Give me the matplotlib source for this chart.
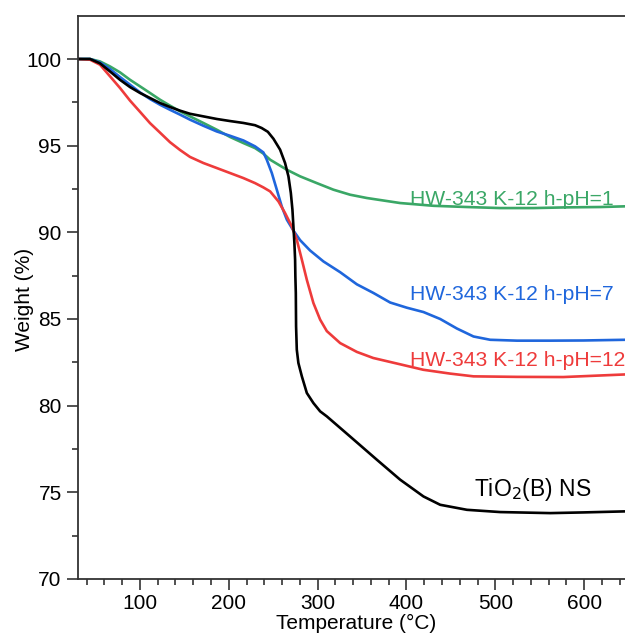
import matplotlib
matplotlib.use("Agg")
import matplotlib.pyplot as plt
import numpy as np

plt.rcParams['font.family'] = ['Liberation Sans', 'DejaVu Sans']

# TGA curves: temperature (C), weight (%)
T_black = [30, 43.9, 55.1, 66.4, 77.6, 88.9, 100.2, 111.4, 122.7, 133.9,
           145.2, 156.4, 171.4, 186.5, 201.5, 216.5, 229.6, 237, 244, 250.3,
           257.8, 263.4, 267.2, 269.9, 271.7, 272.8, 273.9, 274.7, 275.0, 275.5,
           275.8, 276.6, 278.4, 282.3, 287.9, 295.3, 302.9, 310.4, 336.6, 366.7,
           392.9, 419.2, 438, 468.1, 505.6, 561.9, 599.4, 646.3]
W_black = [100, 100, 99.75, 99.28, 98.8, 98.38, 98.04, 97.75, 97.46, 97.23,
           97.02, 96.84, 96.69, 96.54, 96.42, 96.31, 96.18, 96.02, 95.8, 95.4,
           94.77, 94.0, 93.23, 92.27, 91.3, 90.34, 89.38, 88.42, 87.46, 86.5,
           84.57, 83.23, 82.46, 81.69, 80.73, 80.15, 79.67, 79.38, 78.22, 76.88,
           75.73, 74.76, 74.28, 73.99, 73.86, 73.8, 73.84, 73.9]

T_green = [30, 43.9, 55.1, 66.4, 77.6, 88.9, 100.2, 111.4, 122.7, 133.9,
           145.2, 156.4, 171.4, 186.5, 201.5, 216.5, 229.6, 239, 246.6, 265.4,
           280.3, 299.1, 317.8, 336.6, 355.4, 392.9, 430.5, 468.1, 505.6, 543.1,
           580.7, 618.2, 646.3]
W_green = [100, 100, 99.86, 99.57, 99.23, 98.8, 98.42, 98.04, 97.65, 97.31,
           96.98, 96.69, 96.31, 95.92, 95.5, 95.15, 94.86, 94.54, 94.19, 93.61,
           93.23, 92.84, 92.46, 92.17, 91.98, 91.69, 91.53, 91.46, 91.4, 91.4,
           91.44, 91.46, 91.5]

T_blue = [30, 43.9, 55.1, 66.4, 77.6, 88.9, 100.2, 111.4, 122.7, 133.9,
          145.2, 156.4, 171.4, 186.5, 201.5, 216.5, 229.6, 239, 242.8, 248.5,
          254.1, 259.7, 265.4, 272.8, 280.3, 291.6, 306.6, 325.4, 344.2, 362.9,
          381.7, 400.5, 419.2, 438, 456.8, 475.5, 494.3, 524.4, 561.9, 599.4,
          646.3]
W_blue = [100, 100, 99.8, 99.42, 98.96, 98.52, 98.07, 97.69, 97.36, 97.07,
          96.79, 96.5, 96.15, 95.82, 95.57, 95.3, 94.96, 94.61, 94.19, 93.42,
          92.46, 91.49, 90.73, 90.1, 89.55, 88.95, 88.32, 87.7, 87.0, 86.5,
          85.95, 85.65, 85.4, 85.0, 84.45, 83.99, 83.8, 83.75, 83.75, 83.76,
          83.8]

T_red = [30, 43.9, 55.1, 66.4, 77.6, 88.9, 100.2, 111.4, 122.7, 133.9,
         145.2, 156.4, 171.4, 186.5, 201.5, 216.5, 229.6, 239, 246.6, 256,
         263.4, 271, 276.6, 282.3, 287.9, 295.3, 302.9, 310.4, 325.4, 344.2,
         362.6, 400, 419, 449, 475.5, 524.4, 576.5, 646]
W_red = [100, 99.96, 99.67, 99.0, 98.33, 97.6, 96.95, 96.3, 95.75, 95.2,
         94.75, 94.35, 94.0, 93.71, 93.42, 93.13, 92.84, 92.59, 92.36, 91.78,
         91.11, 90.34, 89.57, 88.42, 87.26, 85.92, 84.96, 84.3, 83.61, 83.1,
         82.75, 82.3, 82.07, 81.85, 81.69, 81.66, 81.65, 81.8]

labels = ["HW-343 K-12 h-pH=1", "HW-343 K-12 h-pH=7", "HW-343 K-12 h-pH=12", "TiO$_2$(B) NS"]
colors = ["#3aa766", "#1f66dc", "#ee3b3b", "black"]

fig = plt.figure(figsize=(6.25, 6.37), dpi=100)
ax = fig.add_axes([0.1243, 0.0911, 0.8757, 0.8843])

for T, W, c in [(T_green, W_green, colors[0]), (T_blue, W_blue, colors[1]),
                (T_red, W_red, colors[2]), (T_black, W_black, colors[3])]:
    ax.plot(T, W, color=c, lw=1.9, solid_joinstyle='round', solid_capstyle='round')

ax.text(404, 91.9, labels[0], color=colors[0], fontsize=15.2, va='center', ha='left')
ax.text(404, 86.4, labels[1], color=colors[1], fontsize=15.2, va='center', ha='left')
ax.text(404, 82.6, labels[2], color=colors[2], fontsize=15.2, va='center', ha='left', clip_on=True)
ax.text(476, 75.15, labels[3], color=colors[3], fontsize=16.5, va='center', ha='left')

ax.set_xlim(30, 646)
ax.set_ylim(70, 102.5)
ax.set_xticks([100, 200, 300, 400, 500, 600])
ax.set_xticks(np.arange(40, 646, 20), minor=True)
ax.set_yticks([70, 75, 80, 85, 90, 95, 100])
ax.set_yticks(np.arange(70, 102.5, 2.5), minor=True)
ax.tick_params(which='major', direction='out', length=8, width=1.2, labelsize=15, colors='#333333', labelcolor='black')
ax.tick_params(which='minor', direction='out', length=4, width=1.2, colors='#333333')
ax.tick_params(axis='x', pad=3)
ax.spines['right'].set_visible(False)
for s in ['left', 'bottom', 'top']:
    ax.spines[s].set_linewidth(1.3)
    ax.spines[s].set_color('#333333')

ax.set_xlabel('Temperature (°C)', fontsize=15)
ax.set_ylabel('Weight (%)', fontsize=15)
ax.xaxis.set_label_coords(0.5085, -0.062)
ax.yaxis.set_label_coords(-0.080, 0.497)

fig.savefig('out.png', dpi=100)
